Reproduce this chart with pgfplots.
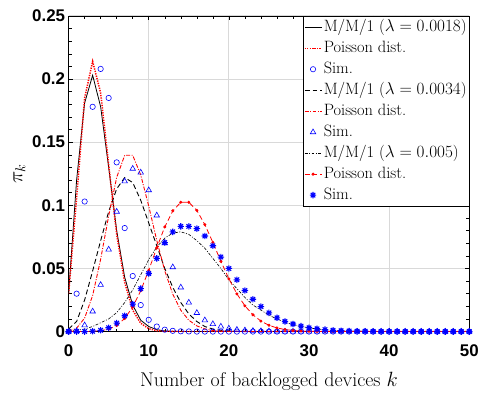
\documentclass[border=0pt]{standalone}
\usepackage{pgfplots}
\pgfplotsset{compat=1.18}
\usepackage{pgfplotstable}
\usepackage{fontspec}
\newfontfamily\tickfont{Liberation Sans}

\pgfdeclareplotmark{mstar}{%
  \pgfpathmoveto{\pgfqpoint{-\pgfplotmarksize}{0pt}}\pgfpathlineto{\pgfqpoint{\pgfplotmarksize}{0pt}}%
  \pgfpathmoveto{\pgfqpoint{0pt}{-\pgfplotmarksize}}\pgfpathlineto{\pgfqpoint{0pt}{\pgfplotmarksize}}%
  \pgfpathmoveto{\pgfqpoint{-0.707\pgfplotmarksize}{-0.707\pgfplotmarksize}}\pgfpathlineto{\pgfqpoint{0.707\pgfplotmarksize}{0.707\pgfplotmarksize}}%
  \pgfpathmoveto{\pgfqpoint{-0.707\pgfplotmarksize}{0.707\pgfplotmarksize}}\pgfpathlineto{\pgfqpoint{0.707\pgfplotmarksize}{-0.707\pgfplotmarksize}}%
  \pgfusepathqstroke}

\pgfplotstableread{
k  m1     p1     s1     m2     p2     s2     m3     p3     s3
0  0.030  0.030  0.000  0.002  0.0003 0.000  0.0003 0.0000 0.000
1  0.120  0.106  0.030  0.008  0.0027 0.0005 0.001  0.0000 0.000
2  0.181  0.185  0.103  0.025  0.0107 0.005  0.002  0.0000 0.000
3  0.203  0.214  0.178  0.048  0.0286 0.016  0.004  0.0002 0.0003
4  0.178  0.189  0.208  0.072  0.0573 0.037  0.007  0.0007 0.001
5  0.130  0.132  0.185  0.095  0.0916 0.065  0.010  0.0019 0.003
6  0.080  0.077  0.134  0.113  0.1221 0.095  0.015  0.0048 0.0067
7  0.043  0.039  0.082  0.122  0.1396 0.119  0.023  0.0104 0.0125
8  0.021  0.017  0.044  0.118  0.1396 0.129  0.033  0.0194 0.0217
9  0.009  0.0066 0.021  0.104  0.1241 0.126  0.045  0.0324 0.034
10 0.004  0.0023 0.0093 0.086  0.0993 0.112  0.057  0.0486 0.046
11 0.0015 0.0007 0.004  0.068  0.0722 0.092  0.067  0.0663 0.058
12 0.0005 0.0002 0.0015 0.050  0.0481 0.070  0.074  0.0829 0.0705
13 0.0002 0.0001 0.0006 0.035  0.0296 0.051  0.078  0.0956 0.079
14 0.0001 0.0000 0.0002 0.023  0.0169 0.035  0.079  0.1024 0.0833
15 0.0000 0.0000 0.0001 0.014  0.0090 0.023  0.077  0.1024 0.0833
16 0.0000 0.0000 0.0000 0.008  0.0045 0.0148 0.072  0.0960 0.0815
17 0.0000 0.0000 0.0000 0.004  0.0021 0.009  0.066  0.0847 0.0757
18 0.0000 0.0000 0.0000 0.002  0.0009 0.006  0.058  0.0706 0.068
19 0.0000 0.0000 0.0000 0.001  0.0004 0.004  0.050  0.0557 0.059
20 0.0000 0.0000 0.0000 0.0005 0.0002 0.0025 0.041  0.0418 0.050
21 0.0000 0.0000 0.0000 0.0002 0.0001 0.0015 0.034  0.0299 0.041
22 0.0000 0.0000 0.0000 0.0001 0.0000 0.001  0.027  0.0204 0.0325
23 0.0000 0.0000 0.0000 0.0000 0.0000 0.0006 0.021  0.0133 0.0256
24 0.0000 0.0000 0.0000 0.0000 0.0000 0.0004 0.017  0.0083 0.0198
25 0.0000 0.0000 0.0000 0.0000 0.0000 0.0002 0.013  0.0050 0.0148
26 0.0000 0.0000 0.0000 0.0000 0.0000 0.0001 0.010  0.0029 0.0109
27 0.0000 0.0000 0.0000 0.0000 0.0000 0.0000 0.0075 0.0016 0.008
28 0.0000 0.0000 0.0000 0.0000 0.0000 0.0000 0.0055 0.0009 0.006
29 0.0000 0.0000 0.0000 0.0000 0.0000 0.0000 0.004  0.0004 0.0043
30 0.0000 0.0000 0.0000 0.0000 0.0000 0.0000 0.003  0.0002 0.003
31 0.0000 0.0000 0.0000 0.0000 0.0000 0.0000 0.002  0.0001 0.0022
32 0.0000 0.0000 0.0000 0.0000 0.0000 0.0000 0.0014 0.0000 0.0015
33 0.0000 0.0000 0.0000 0.0000 0.0000 0.0000 0.001  0.0000 0.001
34 0.0000 0.0000 0.0000 0.0000 0.0000 0.0000 0.0006 0.0000 0.0007
35 0.0000 0.0000 0.0000 0.0000 0.0000 0.0000 0.0004 0.0000 0.0005
36 0.0000 0.0000 0.0000 0.0000 0.0000 0.0000 0.0003 0.0000 0.0003
37 0.0000 0.0000 0.0000 0.0000 0.0000 0.0000 0.0002 0.0000 0.0002
38 0.0000 0.0000 0.0000 0.0000 0.0000 0.0000 0.0001 0.0000 0.0001
39 0.0000 0.0000 0.0000 0.0000 0.0000 0.0000 0.0000 0.0000 0.0000
40 0.0000 0.0000 0.0000 0.0000 0.0000 0.0000 0.0000 0.0000 0.0000
41 0.0000 0.0000 0.0000 0.0000 0.0000 0.0000 0.0000 0.0000 0.0000
42 0.0000 0.0000 0.0000 0.0000 0.0000 0.0000 0.0000 0.0000 0.0000
43 0.0000 0.0000 0.0000 0.0000 0.0000 0.0000 0.0000 0.0000 0.0000
44 0.0000 0.0000 0.0000 0.0000 0.0000 0.0000 0.0000 0.0000 0.0000
45 0.0000 0.0000 0.0000 0.0000 0.0000 0.0000 0.0000 0.0000 0.0000
46 0.0000 0.0000 0.0000 0.0000 0.0000 0.0000 0.0000 0.0000 0.0000
47 0.0000 0.0000 0.0000 0.0000 0.0000 0.0000 0.0000 0.0000 0.0000
48 0.0000 0.0000 0.0000 0.0000 0.0000 0.0000 0.0000 0.0000 0.0000
49 0.0000 0.0000 0.0000 0.0000 0.0000 0.0000 0.0000 0.0000 0.0000
50 0.0000 0.0000 0.0000 0.0000 0.0000 0.0000 0.0000 0.0000 0.0000
}\datatable

\begin{document}
\begin{tikzpicture}
\begin{axis}[
  scale only axis, width=403pt, height=317.5pt,
  xmin=0, xmax=50, ymin=0, ymax=0.25,
  xtick={0,10,20,30,40,50}, xticklabels={0,10,20,30,40,50},
  ytick={0,0.05,0.1,0.15,0.2,0.25}, yticklabels={0,0.05,0.1,0.15,0.2,0.25},
  minor x tick num=4, minor y tick num=4,
  tick align=inside, tick pos=both,
  major tick length=4pt, minor tick length=3pt,
  grid=major, major grid style={color=black!15, line width=0.9pt},
  axis line style={line width=0.8pt},
  tick style={black, line width=0.5pt},
  ticklabel style={font=\tickfont\bfseries\fontsize{17}{20}\selectfont},
  xticklabel style={yshift=-10pt},
  /pgf/number format/assume math mode=true,
  xlabel={Number of backlogged devices $k$}, ylabel={$\pi_k$},
  xlabel style={font=\fontsize{20}{23}\selectfont, yshift=-8pt},
  ylabel style={font=\fontsize{21}{24}\selectfont},
  legend cell align=left,
  legend style={at={(1,1)}, anchor=north east,
    font=\fontsize{16.5}{19}\selectfont, inner xsep=1pt, inner ysep=1.5pt,
    row sep=1.6pt, nodes={inner sep=1.5pt, text height=12.3pt, text depth=4.2pt}},
]
\addplot[black, line width=0.8pt] table[x=k, y=m1] {\datatable};
\addlegendentry{M/M/1 ($\lambda=0.0018$)}
\addplot[red, line width=1.5pt, dash pattern=on 1.3pt off 1.2pt] table[x=k, y=p1] {\datatable};
\addlegendentry{Poisson dist.}
\addplot[blue, only marks, mark=o, mark size=2.7pt, line width=0.6pt] table[x=k, y=s1] {\datatable};
\addlegendentry{Sim.}
\addplot[black, line width=0.9pt, dash pattern=on 5pt off 3pt] table[x=k, y=m2] {\datatable};
\addlegendentry{M/M/1 ($\lambda=0.0034$)}
\addplot[red, line width=0.9pt, dash pattern=on 4pt off 1.5pt on 1pt off 1.5pt] table[x=k, y=p2] {\datatable};
\addlegendentry{Poisson dist.}
\addplot[blue, only marks, mark=triangle, mark size=3.2pt, line width=0.6pt] table[x=k, y=s2] {\datatable};
\addlegendentry{Sim.}
\addplot[black, line width=0.6pt, dash pattern=on 3pt off 1.5pt on 1pt off 1.5pt] table[x=k, y=m3] {\datatable};
\addlegendentry{M/M/1 ($\lambda=0.005$)}
\addplot[red, line width=0.8pt, dash pattern=on 5pt off 3pt, mark=*, mark size=1.1pt, mark options={solid}] table[x=k, y=p3] {\datatable};
\addlegendentry{Poisson dist.}
\addplot[blue, only marks, mark=mstar, mark size=3.2pt, line width=1.1pt] table[x=k, y=s3] {\datatable};
\addlegendentry{Sim.}
\end{axis}
\path ([xshift=-69pt,yshift=-60.5pt]current axis.south west) rectangle ([xshift=10pt,yshift=16pt]current axis.north east);
\end{tikzpicture}
\end{document}
